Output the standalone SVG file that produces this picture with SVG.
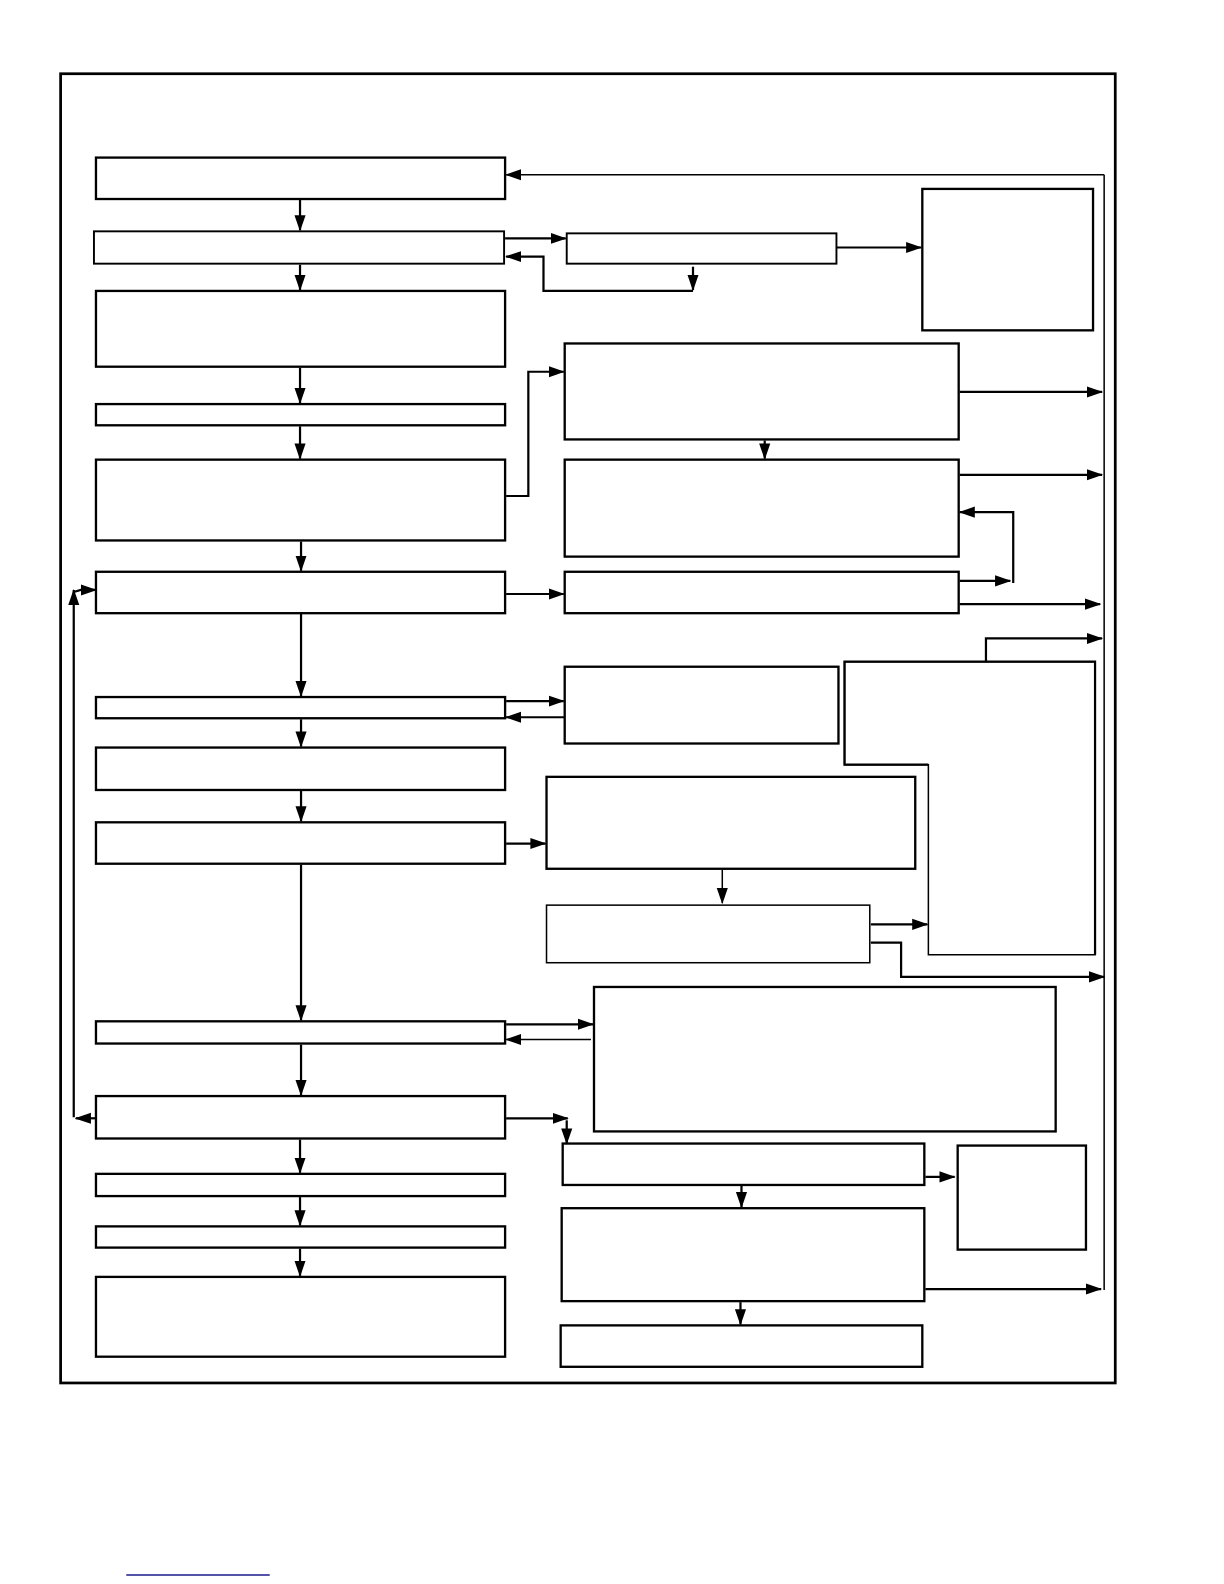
<svg xmlns="http://www.w3.org/2000/svg" width="1224" height="1584" viewBox="0 0 1224 1584">
<style>
.box{fill:#fff;stroke:#000;stroke-width:2.3}
.thin{stroke-width:1.5}
.mid{stroke-width:1.9}
.c{fill:none;stroke:#000;stroke-width:2.2}
.ct{fill:none;stroke:#000;stroke-width:1.5}
</style>
<defs>
<marker id="ah" markerUnits="userSpaceOnUse" markerWidth="16" markerHeight="12" refX="15" refY="6" orient="auto">
<path d="M0,0.5 L16,6 L0,11.5 Z" fill="#000"/>
</marker>
</defs>
<rect width="1224" height="1584" fill="#fff"/>
<g transform="scale(1.0102)">
<rect id="frame" x="60" y="73" width="1044" height="1296" fill="none" stroke="#000" stroke-width="2.7"/>
<g id="nodes">
<g id="A"><rect class="box" x="95" y="156" width="405" height="41"/></g>
<g id="B"><rect class="box mid" x="93" y="229" width="406" height="32"/></g>
<g id="C"><rect class="box" x="95" y="288" width="405" height="75"/></g>
<g id="D"><rect class="box" x="95" y="400" width="405" height="21"/></g>
<g id="E"><rect class="box" x="95" y="455" width="405" height="80"/></g>
<g id="F"><rect class="box" x="95" y="566" width="405" height="41"/></g>
<g id="G"><rect class="box" x="95" y="690" width="405" height="21"/></g>
<g id="H"><rect class="box" x="95" y="740" width="405" height="42"/></g>
<g id="I"><rect class="box" x="95" y="814" width="405" height="41"/></g>
<g id="J"><rect class="box" x="95" y="1011" width="405" height="22"/></g>
<g id="K"><rect class="box" x="95" y="1085" width="405" height="42"/></g>
<g id="L"><rect class="box" x="95" y="1162" width="405" height="22"/></g>
<g id="M"><rect class="box" x="95" y="1214" width="405" height="21"/></g>
<g id="N"><rect class="box" x="95" y="1264" width="405" height="79"/></g>
<g id="R1"><rect class="box mid" x="561" y="231" width="267" height="30"/></g>
<g id="R2"><rect class="box" x="913" y="187" width="169" height="140"/></g>
<g id="R3"><rect class="box" x="559" y="340" width="390" height="95"/></g>
<g id="R4"><rect class="box" x="559" y="455" width="390" height="96"/></g>
<g id="R5"><rect class="box" x="559" y="566" width="390" height="41"/></g>
<g id="R6"><rect class="box" x="559" y="660" width="271" height="76"/></g>
<g id="R7"><path class="box thin" d="M836,655 H1084 V945 H919 V757 H836 Z"/><path class="c" d="M919,757 H836 V655 H1084 V945"/></g>
<g id="R8"><rect class="box" x="541" y="769" width="365" height="91"/></g>
<g id="R9"><rect class="box thin" x="541" y="896" width="320" height="57"/></g>
<g id="R10"><rect class="box" x="588" y="977" width="457" height="143"/></g>
<g id="R11"><rect class="box" x="557" y="1132" width="358" height="41"/></g>
<g id="R12"><rect class="box" x="948" y="1134" width="127" height="103"/></g>
<g id="R13"><rect class="box" x="556" y="1196" width="359" height="92"/></g>
<g id="R14"><rect class="box" x="555" y="1312" width="358" height="41"/></g>
</g>
<g id="connectors">
<path class="c" d="M297,198 V228" marker-end="url(#ah)"/>
<path class="c" d="M297,262 V287" marker-end="url(#ah)"/>
<path class="c" d="M297,364 V399" marker-end="url(#ah)"/>
<path class="c" d="M297,422 V454" marker-end="url(#ah)"/>
<path class="c" d="M298,536 V565" marker-end="url(#ah)"/>
<path class="c" d="M298,607 V689" marker-end="url(#ah)"/>
<path class="c" d="M298,712 V739" marker-end="url(#ah)"/>
<path class="c" d="M298,783 V813" marker-end="url(#ah)"/>
<path class="c" d="M298,856 V1010" marker-end="url(#ah)"/>
<path class="c" d="M298,1034 V1084" marker-end="url(#ah)"/>
<path class="c" d="M297,1128 V1161" marker-end="url(#ah)"/>
<path class="c" d="M297,1185 V1213" marker-end="url(#ah)"/>
<path class="c" d="M297,1236 V1263" marker-end="url(#ah)"/>
<path class="ct" d="M1093,173 V1277"/>
<path class="ct" d="M1093,173 H501" marker-end="url(#ah)"/>
<path class="c" d="M500,236 H560" marker-end="url(#ah)"/>
<path class="c" d="M686,264 V287" marker-end="url(#ah)"/>
<path class="c" d="M686,288 H538 V254 H501" marker-end="url(#ah)"/>
<path class="c" d="M828,245 H912" marker-end="url(#ah)"/>
<path class="c" d="M501,491 H523 V368 H558" marker-end="url(#ah)"/>
<path class="c" d="M757,436 V454" marker-end="url(#ah)"/>
<path class="c" d="M950,388 H1091" marker-end="url(#ah)"/>
<path class="c" d="M950,470 H1091" marker-end="url(#ah)"/>
<path class="c" d="M950,575 H1000" marker-end="url(#ah)"/>
<path class="c" d="M1003,577 V507 H950" marker-end="url(#ah)"/>
<path class="c" d="M950,598 H1089" marker-end="url(#ah)"/>
<path class="c" d="M501,588 H558" marker-end="url(#ah)"/>
<path class="c" d="M976,655 V632 H1091" marker-end="url(#ah)"/>
<path class="c" d="M501,694 H558" marker-end="url(#ah)"/>
<path class="c" d="M559,710 H501" marker-end="url(#ah)"/>
<path class="c" d="M501,835 H540" marker-end="url(#ah)"/>
<path class="ct" d="M715,861 V894" marker-end="url(#ah)"/>
<path class="c" d="M862,915 H918" marker-end="url(#ah)"/>
<path class="c" d="M862,933 H892 V967 H1093" marker-end="url(#ah)"/>
<path class="c" d="M501,1014 H587" marker-end="url(#ah)"/>
<path class="ct" d="M585,1029 H501" marker-end="url(#ah)"/>
<path class="c" d="M501,1107 H562" marker-end="url(#ah)"/>
<path class="c" d="M561,1109 V1132" marker-end="url(#ah)"/>
<path class="c" d="M95,1107 H75" marker-end="url(#ah)"/>
<path class="c" d="M73,1106 V584" marker-end="url(#ah)"/>
<path class="c" d="M73,586 L80,584 H95" marker-end="url(#ah)"/>
<path class="c" d="M916,1165 H945" marker-end="url(#ah)"/>
<path class="c" d="M734,1172 V1195" marker-end="url(#ah)"/>
<path class="c" d="M916,1276 H1090" marker-end="url(#ah)"/>
<path class="c" d="M733,1289 V1311" marker-end="url(#ah)"/>
</g>
<line x1="125" y1="1559" x2="267" y2="1559" stroke="#1a1a8c" stroke-width="1.5"/>
</g>
</svg>
